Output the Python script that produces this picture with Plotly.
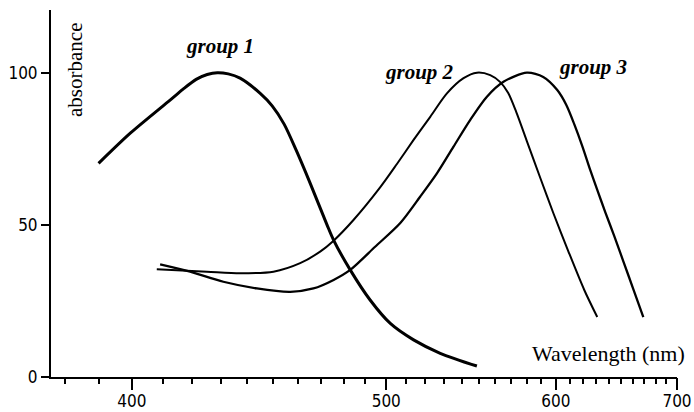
import plotly.graph_objects as go

# Wavelength (nm) and absorbance values
g1_wl = [389.8, 399.6, 412.4, 416.8, 421.3, 425.2, 428.8, 432.8, 437.2, 444.9, 449.6, 454.4,
         459.3, 465.2, 472.5, 475.4, 482.9, 492.2, 502.0, 513.8, 528.0, 548.9]
g1_abs = [70.2, 80.2, 91.0, 94.6, 97.8, 99.4, 100.0, 99.6, 98.2, 93.2, 89.1, 83.1,
          74.6, 63.7, 50.0, 45.0, 35.2, 25.3, 17.6, 12.2, 7.8, 3.6]

g2_wl = [408.0, 425.1, 437.2, 450.1, 461.0, 469.5, 475.4, 484.4, 497.1, 505.3, 513.8, 522.6,
         531.7, 541.1, 548.9, 556.9, 563.1, 568.1, 573.2, 580.4, 589.2, 598.2, 608.9, 620.8, 630.8]
g2_abs = [35.4, 34.6, 34.1, 34.6, 37.4, 41.2, 44.8, 51.6, 62.4, 70.0, 77.9, 85.5,
          93.2, 98.2, 100.0, 99.2, 96.9, 93.3, 87.1, 77.2, 65.4, 53.9, 41.4, 28.6, 19.7]

g3_wl = [409.1, 419.2, 431.0, 443.6, 456.9, 466.6, 475.4, 482.9, 494.6, 507.0, 517.3, 526.2,
         535.4, 545.0, 554.9, 565.1, 580.2, 591.2, 601.0, 607.5, 613.3, 619.3, 625.4, 630.8,
         637.1, 644.4, 651.8, 660.3, 669.0]
g3_abs = [37.0, 34.6, 31.3, 29.1, 28.0, 29.1, 31.9, 35.2, 42.8, 50.6, 59.3, 66.9,
          75.7, 84.5, 92.1, 97.0, 100.0, 98.6, 94.3, 89.4, 83.1, 75.9, 68.0, 61.5,
          54.2, 46.3, 38.1, 28.9, 19.7]

major_ticks = [400, 500, 600, 700]
minor_ticks = list(range(380, 701, 10))
y_ticks = [0, 50, 100]

wl_min, wl_max = 376.1, 700.0


def inv(wl):
    # reciprocal wavelength scale (1000 / nm) used by the reference axis
    return [1000.0 / w for w in wl]


fig = go.Figure()
for wl, ab, w in [(g1_wl, g1_abs, 3.0), (g2_wl, g2_abs, 2.0), (g3_wl, g3_abs, 2.3)]:
    fig.add_trace(go.Scatter(x=inv(wl), y=ab, mode="lines",
                             line=dict(color="black", width=w, shape="spline", smoothing=0.8),
                             showlegend=False, hoverinfo="skip"))

# invisible trace on the minor-tick axis so it renders
fig.add_trace(go.Scatter(x=inv([wl_min]), y=[0], xaxis="x2", mode="markers",
                         marker=dict(opacity=0), showlegend=False, hoverinfo="skip"))

xr = [1000.0 / wl_min, 1000.0 / wl_max]
tick_font = dict(family="DejaVu Sans Condensed, DejaVu Sans, sans-serif", size=17, color="black")
serif = "Liberation Serif, Times New Roman, serif"

fig.update_layout(
    template="none",
    width=694, height=412,
    margin=dict(l=51, r=17, t=10, b=35, autoexpand=False),
    plot_bgcolor="white", paper_bgcolor="white",
    xaxis=dict(range=xr, tickvals=inv(major_ticks), ticktext=[str(t) for t in major_ticks],
               ticks="outside", ticklen=11, tickwidth=1.5, tickcolor="black",
               showline=True, linecolor="black", linewidth=2, showgrid=False,
               zeroline=False, tickfont=tick_font, automargin=False, ticklabelstandoff=-3),
    xaxis2=dict(range=xr, overlaying="x", anchor="y", side="bottom",
                tickvals=inv(minor_ticks), ticks="outside", ticklen=6, tickwidth=1.5,
                tickcolor="black", showticklabels=False, showline=False, showgrid=False,
                zeroline=False, automargin=False),
    yaxis=dict(range=[0, 120.6], tickvals=y_ticks, ticks="outside", ticklen=8, tickwidth=1.5,
               tickcolor="black", showline=True, linecolor="black", linewidth=2,
               showgrid=False, zeroline=False, tickfont=tick_font, automargin=False),
    annotations=[
        dict(text="<b><i>group 1</i></b>", x=0.270, y=0.902, xref="paper", yref="paper",
             xanchor="center", yanchor="middle", showarrow=False,
             font=dict(family=serif, size=21, color="black")),
        dict(text="<b><i>group 2</i></b>", x=0.588, y=0.831, xref="paper", yref="paper",
             xanchor="center", yanchor="middle", showarrow=False,
             font=dict(family=serif, size=21, color="black")),
        dict(text="<b><i>group 3</i></b>", x=0.866, y=0.845, xref="paper", yref="paper",
             xanchor="center", yanchor="middle", showarrow=False,
             font=dict(family=serif, size=21, color="black")),
        dict(text="absorbance", x=0.0383, y=0.8365, xref="paper", yref="paper", textangle=-90,
             xanchor="center", yanchor="middle", showarrow=False,
             font=dict(family=serif, size=21, color="black")),
        dict(text="Wavelength (nm)", x=1.016, y=0.0627, xref="paper", yref="paper",
             xanchor="right", yanchor="middle", showarrow=False,
             font=dict(family=serif, size=22, color="black")),
    ],
)

fig.write_html("out.html", config={"displayModeBar": False},
               post_script="document.body.style.margin='0';")
